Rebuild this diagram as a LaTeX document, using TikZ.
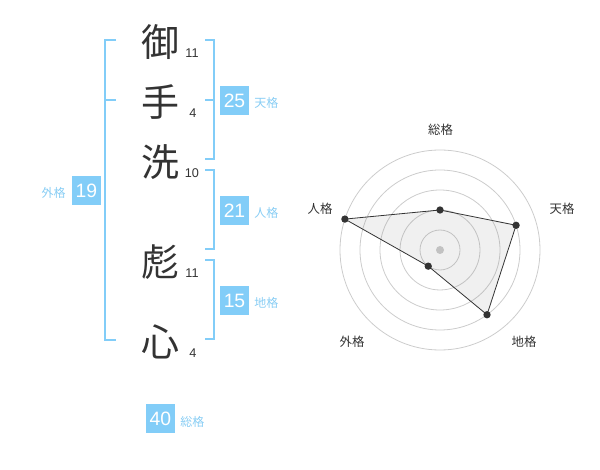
\documentclass[tikz,border=0pt]{standalone}
\usepackage{fontspec}
\setmainfont{Liberation Sans}
\newfontfamily\jp{Noto Sans CJK JP}
\definecolor{sky}{HTML}{82CDF8}
\definecolor{skytxt}{HTML}{88CDF4}
\definecolor{ink}{HTML}{333333}
\definecolor{ring}{HTML}{CCCCCC}
\tikzset{
  kanji/.style={font=\jp\fontsize{28.5}{28.5}\selectfont, text=ink, inner sep=0pt},
  strokes/.style={font=\fontsize{9.5}{10}\selectfont, text=ink, inner sep=0pt},
  numbox/.style={fill=sky, text=white, minimum width=21.75pt, minimum height=21.75pt, inner sep=0pt, font=\fontsize{14.5}{15}\selectfont},
  kaku/.style={font=\jp\fontsize{9}{9}\selectfont, text=skytxt, inner sep=0pt},
  bracket/.style={draw=sky, line width=1.5pt},
  radlabel/.style={font=\jp\fontsize{9.3}{9.3}\selectfont, text=ink, inner sep=0pt},
  ringline/.style={draw=ring, line width=0.6pt},
  dot/.style={circle, fill=ink, inner sep=0pt, minimum size=5.5pt},
}
\begin{document}
\begin{tikzpicture}[x=0.75pt, y=-0.75pt]
\useasboundingbox (0,0) rectangle (600,470);
% name characters
\node[kanji] (c1) at (160,42) {御};
\node[kanji] (c2) at (160,102) {手};
\node[kanji] (c3) at (160,162) {洗};
\node[kanji] (c4) at (160,262) {彪};
\node[kanji] (c5) at (160,342) {心};
\node[strokes] (s1) at (192,53) {11};
\node[strokes] (s2) at (193,113) {4};
\node[strokes] (s3) at (192,173) {10};
\node[strokes] (s4) at (192,273) {11};
\node[strokes] (s5) at (193,353) {4};
% brackets
\draw[bracket] (116,40) -- (105,40) -- (105,340) -- (116,340);
\draw[bracket] (105,100) -- (116,100);
\draw[bracket] (205,40) -- (214,40) -- (214,159) -- (205,159);
\draw[bracket] (205,100) -- (214,100);
\draw[bracket] (205,170) -- (214,170) -- (214,249) -- (205,249);
\draw[bracket] (205,260) -- (214,260) -- (214,339) -- (205,339);
% boxes
\node[numbox] (b1) at (234.5,100.5) {25};
\node[kaku, anchor=west] (k1) at (254,103) {天格};
\node[numbox] (b2) at (234.5,210.5) {21};
\node[kaku, anchor=west] (k2) at (254,213) {人格};
\node[numbox] (b3) at (234.5,300.5) {15};
\node[kaku, anchor=west] (k3) at (254,303) {地格};
\node[numbox] (b4) at (86.5,190.5) {19};
\node[kaku, anchor=east] (k4) at (66,193) {外格};
\node[numbox] (b5) at (160.5,418.5) {40};
\node[kaku, anchor=west] (k5) at (180,422) {総格};
% radar
\begin{scope}[shift={(440,250)}]
\foreach \r in {20,40,60,80,100} \draw[ringline] (0,0) circle[radius=\r];
\fill[ring] (0,0) circle[radius=4];
\coordinate (p1) at (-90:40);
\coordinate (p2) at (-18:80);
\coordinate (p3) at (54:80);
\coordinate (p4) at (126:20);
\coordinate (p5) at (198:100);
\fill[black!50, opacity=0.12] (p1) -- (p2) -- (p3) -- (p4) -- (p5) -- cycle;
\draw[ink, line width=0.6pt] (p1) -- (p2) -- (p3) -- (p4) -- (p5) -- cycle;
\foreach \p in {p1,p2,p3,p4,p5} \node[dot] (d\p) at (\p) {};
\end{scope}
\node[radlabel] (r1) at (440.5,130) {総格};
\node[radlabel] (r2) at (562,209) {天格};
\node[radlabel] (r3) at (524,342) {地格};
\node[radlabel] (r4) at (352,342) {外格};
\node[radlabel] (r5) at (320,209) {人格};
\end{tikzpicture}
\end{document}
